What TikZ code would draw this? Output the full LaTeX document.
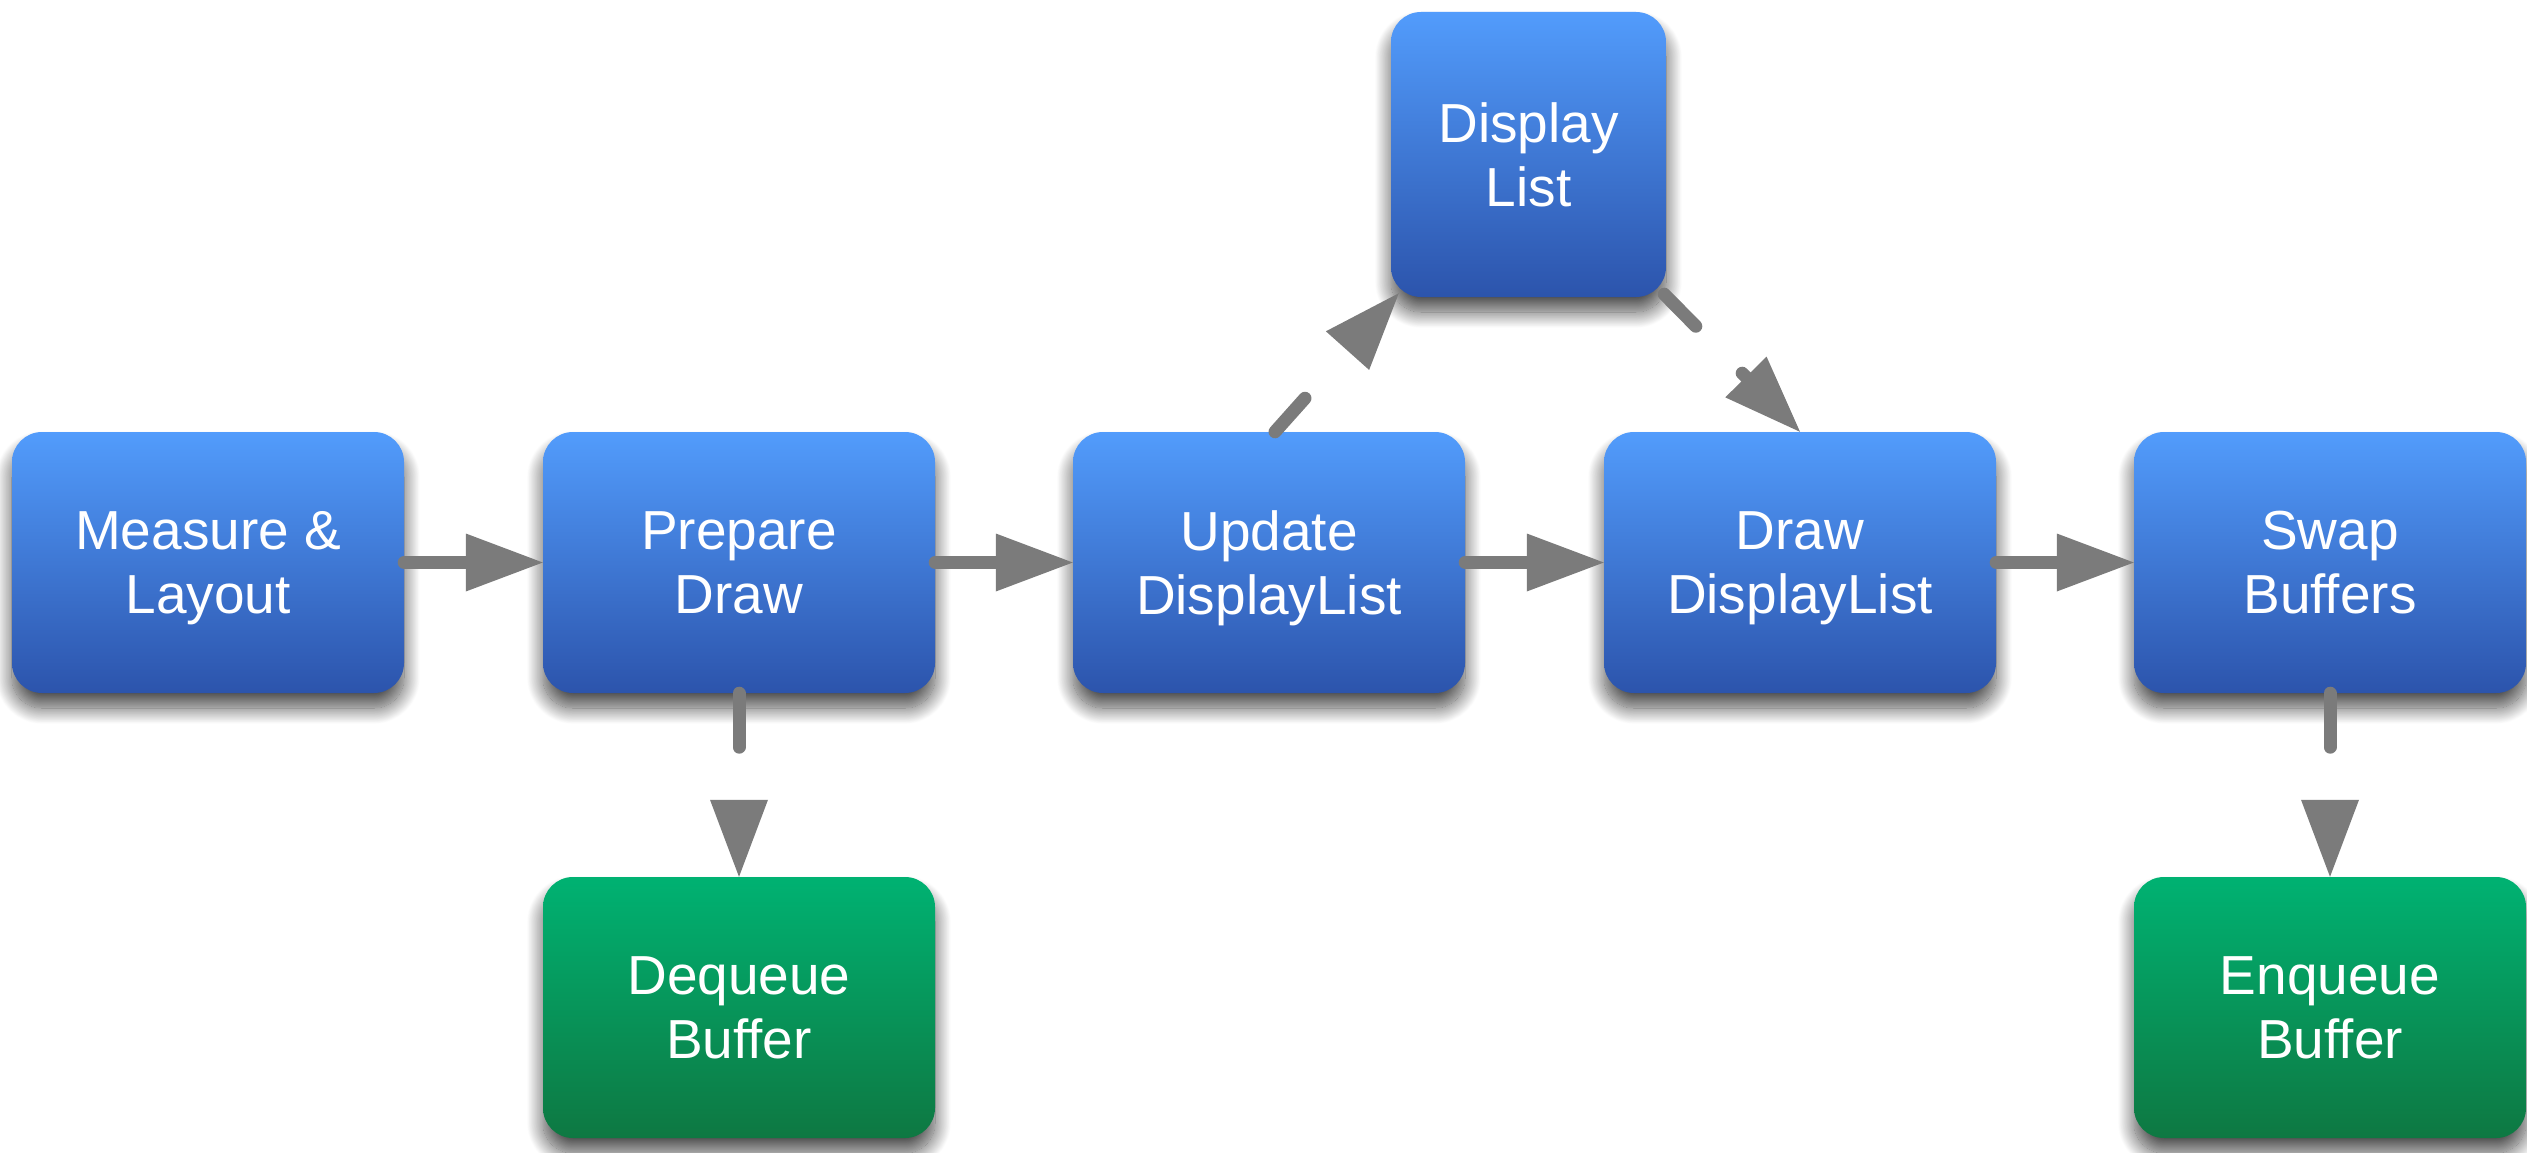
\documentclass[tikz,border=0pt]{standalone}
\usepackage{fontspec}
\setmainfont{Liberation Sans}
\usetikzlibrary{arrows.meta,shadows.blur,calc}

\definecolor{bluetop}{RGB}{82,156,252}
\definecolor{bluebot}{RGB}{44,84,172}
\definecolor{greentop}{RGB}{0,178,114}
\definecolor{greenbot}{RGB}{14,120,66}
\definecolor{arrowgray}{RGB}{123,123,123}

\tikzset{
  box/.style={rounded corners=30pt, minimum width=392pt, minimum height=261pt,
    inner sep=0pt, align=center, text=white, text depth=0pt,
    font=\fontsize{55}{64}\selectfont,
    blur shadow={shadow xshift=0pt, shadow yshift=-15pt,
      shadow blur radius=16pt, shadow blur steps=24, shadow opacity=70}},
  bluebox/.style={box, top color=bluetop, bottom color=bluebot},
  greenbox/.style={box, top color=greentop, bottom color=greenbot},
  flow/.style={arrowgray, line width=13pt, line cap=round,
    -{Triangle[length=77pt,width=58pt,line width=0pt]}},
  flowdash/.style={flow, dash pattern=on 45pt off 66pt},
}

\begin{document}
\begin{tikzpicture}[x=1pt,y=-1pt]
  \useasboundingbox (0,0) rectangle (2527,1153);

  % main pipeline
  \node[bluebox] (measure) at (208,562.5)  {Measure \&\\Layout};
  \node[bluebox] (prepare) at (739,562.5)  {Prepare\\Draw};
  \node[bluebox] (update)  at (1269,562.5) {Update\\DisplayList};
  \node[bluebox] (drawdl)  at (1800,562.5) {Draw\\DisplayList};
  \node[bluebox] (swap)    at (2330,562.5) {Swap\\Buffers};

  % side stages
  \node[bluebox, minimum width=275pt, minimum height=285pt] (dlist) at (1528.5,154.5) {Display\\List};
  \node[greenbox] (dequeue) at (739,1007.5)  {Dequeue\\Buffer};
  \node[greenbox] (enqueue) at (2330,1007.5) {Enqueue\\Buffer};

  % solid connectors
  \draw[flow] (measure.east) -- (prepare.west);
  \draw[flow] (prepare.east) -- (update.west);
  \draw[flow] (update.east)  -- (drawdl.west);
  \draw[flow] (drawdl.east)  -- (swap.west);

  % dashed connectors
  \draw[flowdash] ($(update.north)+(6,0)$) -- ($(dlist.south west)+(8,-4)$);
  \draw[flowdash] ($(dlist.south east)+(-2,-3)$) -- (drawdl.north);
  \draw[flow, dash pattern=on 54pt off 60pt] (prepare.south) -- (dequeue.north);
  \draw[flow, dash pattern=on 54pt off 60pt] (swap.south) -- (enqueue.north);
\end{tikzpicture}
\end{document}
